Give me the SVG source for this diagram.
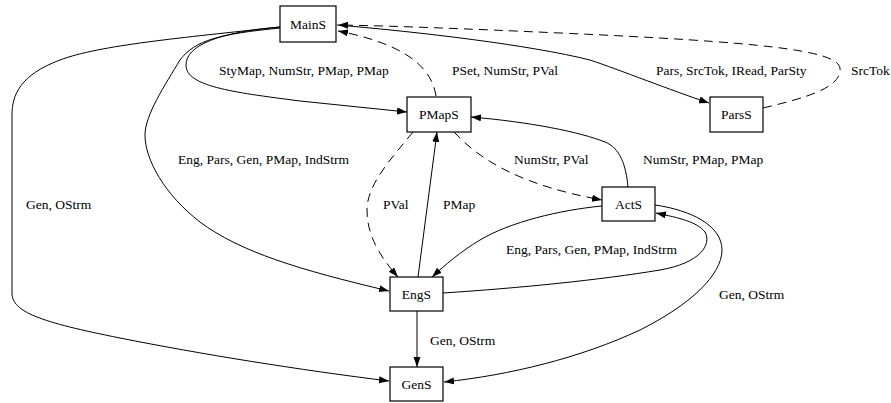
<svg xmlns="http://www.w3.org/2000/svg" width="891" height="403" viewBox="0 0 891 403">
<defs>
<marker id="ah" markerUnits="userSpaceOnUse" markerWidth="12" markerHeight="8" refX="10" refY="3.5" orient="auto">
<path d="M0,0 L10,3.5 L0,7 Z" fill="#000"/>
</marker>
<style>
.n rect{fill:#fff;stroke:#000;stroke-width:1.2}
text{font-family:"Liberation Serif","Times New Roman",serif;font-size:13.5px;fill:#000}
.n text{text-anchor:middle}
.e path{fill:none;stroke:#000;stroke-width:1;marker-end:url(#ah)}
.e path.d{stroke-dasharray:9,6}
</style>
</defs>
<rect width="891" height="403" fill="#fff"/>
<g id="edges" class="e">
<path d="M280,27 C220,32 186,45 186,65 C186,86 230,92 300,101 L407,112"/>
<path class="d" d="M436,96 C432,70 410,45 338,31"/>
<path d="M337,25 C420,32 530,45 590,60 C620,70 670,90 709,103"/>
<path class="d" d="M763,108 C805,98 842,88 840,68 C837,50 760,42 560,33 C470,29 400,26 338,25"/>
<path d="M280,28 C220,34 195,40 180,60 C165,85 145,115 145,135 C145,160 165,195 200,222 C240,252 300,270 389,291"/>
<path d="M280,27 C180,38 100,45 60,60 C20,75 12,95 12,115 L12,293 C12,312 40,322 120,338 C200,354 300,370 389,381"/>
<path class="d" d="M413,132 C390,160 367,185 367,210 C367,240 385,262 398,277"/>
<path d="M418,277 L437,132"/>
<path class="d" d="M454,132 C480,160 520,185 602,200"/>
<path d="M628,187 C626,165 620,148 605,142 C580,132 530,122 471,117"/>
<path d="M602,206 C560,210 510,222 480,240 C460,252 445,265 432,277"/>
<path d="M443,293 C520,288 600,280 660,270 C700,263 712,245 705,232 C697,222 680,218 656,213"/>
<path d="M655,205 C690,210 722,225 722,250 C722,275 690,305 640,330 C580,358 510,375 444,382"/>
<path d="M417,311 L417,367"/>
</g>
<g id="labels">
<text x="219" y="75">StyMap, NumStr, PMap, PMap</text>
<text x="452" y="75">PSet, NumStr, PVal</text>
<text x="656" y="75">Pars, SrcTok, IRead, ParSty</text>
<text x="851" y="75">SrcTok</text>
<text x="178" y="164">Eng, Pars, Gen, PMap, IndStrm</text>
<text x="514" y="164">NumStr, PVal</text>
<text x="643" y="164">NumStr, PMap, PMap</text>
<text x="26" y="209">Gen, OStrm</text>
<text x="383" y="209">PVal</text>
<text x="443" y="209">PMap</text>
<text x="506" y="254">Eng, Pars, Gen, PMap, IndStrm</text>
<text x="719" y="299">Gen, OStrm</text>
<text x="430" y="345">Gen, OStrm</text>
</g>
<g id="MainS" class="n"><rect x="280" y="6" width="56" height="36"/><text x="308" y="28.5">MainS</text></g>
<g id="PMapS" class="n"><rect x="407" y="97" width="64" height="35"/><text x="439" y="119">PMapS</text></g>
<g id="ParsS" class="n"><rect x="710" y="97" width="53" height="35"/><text x="736.5" y="119">ParsS</text></g>
<g id="ActS" class="n"><rect x="602" y="187" width="53" height="34"/><text x="628.5" y="208.5">ActS</text></g>
<g id="EngS" class="n"><rect x="390" y="277" width="53" height="34"/><text x="416.5" y="298.5">EngS</text></g>
<g id="GenS" class="n"><rect x="390" y="367" width="53" height="34"/><text x="416.5" y="388.5">GenS</text></g>
</svg>
